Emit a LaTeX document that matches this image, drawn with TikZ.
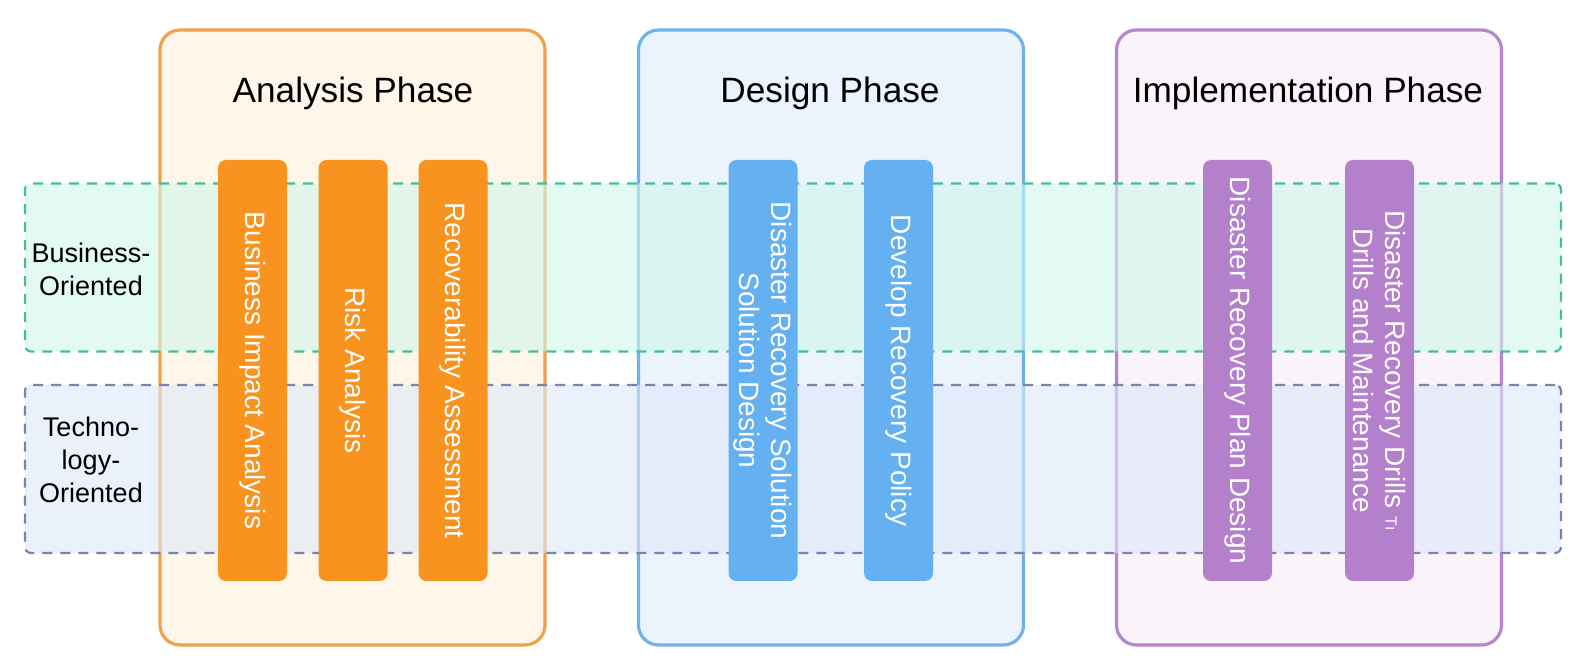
\documentclass[tikz,border=0pt]{standalone}
\usepackage{fontspec}
\setmainfont{Liberation Sans}
\definecolor{phAline}{HTML}{F0A24A}
\definecolor{phAfill}{HTML}{FEF6E8}
\definecolor{barA}{HTML}{F7931E}
\definecolor{phBline}{HTML}{6FB3EA}
\definecolor{phBfill}{HTML}{EBF4FD}
\definecolor{barB}{HTML}{64B0F0}
\definecolor{phCline}{HTML}{B586CC}
\definecolor{phCfill}{HTML}{FAF3FA}
\definecolor{barC}{HTML}{B47FCB}
\definecolor{bizline}{HTML}{45BC9C}
\definecolor{bizfill}{HTML}{CFF7EA}
\definecolor{techline}{HTML}{7A82B0}
\definecolor{techfill}{HTML}{DDE8F8}
\begin{document}
\begin{tikzpicture}[x=0.5pt,y=-0.5pt,
  phasebox/.style={rectangle, rounded corners=10pt, line width=1.6pt, minimum width=192.5pt, minimum height=307.5pt},
  band/.style={rectangle, rounded corners=3pt, line width=1.1pt, dash pattern=on 5pt off 4pt, minimum width=768pt, minimum height=84pt, fill opacity=0.6, text opacity=1},
  bar/.style={rectangle, rounded corners=4pt, rotate=-90, minimum width=210.5pt, minimum height=34.5pt, text=white, font=\fontsize{14pt}{16pt}\selectfont, align=center, inner sep=0pt},
  title/.style={font=\fontsize{17.6pt}{21pt}\selectfont, text=black},
  lab/.style={font=\fontsize{13.5pt}{16.5pt}\selectfont, align=center, text=black}
]
\useasboundingbox (0,0) rectangle (1584,672);
\fill[white] (0,0) rectangle (1584,672);
% phase boxes
\node[phasebox, draw=phAline, fill=phAfill] (pa) at (352.5,337.5) {};
\node[phasebox, draw=phBline, fill=phBfill] (pb) at (831,337.5) {};
\node[phasebox, draw=phCline, fill=phCfill] (pc) at (1309,337.5) {};
% titles
\node[title] (ta) at (353,93) {Analysis Phase};
\node[title] (tb) at (830,93) {Design Phase};
\node[title] (tc) at (1308,93) {Implementation Phase};
% bands
\node[band, draw=bizline, fill=bizfill] (biz) at (793,267.5) {};
\node[band, draw=techline, fill=techfill] (tech) at (793,469) {};
% bars
\node[bar, fill=barA] (a1) at (252.5,370.5) {Business Impact Analysis};
\node[bar, fill=barA] (a2) at (353,370.5) {Risk Analysis};
\node[bar, fill=barA] (a3) at (453,370.5) {Recoverability Assessment};
\node[bar, fill=barB] (b1) at (763,370.5) {Disaster Recovery Solution\\Solution Design};
\node[bar, fill=barB] (b2) at (898.5,370.5) {Develop Recovery Policy};
\node[bar, fill=barC] (c1) at (1237.5,370.5) {Disaster Recovery Plan Design};
\node[bar, fill=barC] (c2) at (1379.5,370.5) {Disaster Recovery Drills {\fontsize{8pt}{8pt}\selectfont T\i}\\Drills and Maintenance};
% row labels
\node[lab] (lb) at (91,269) {Business-\\Oriented};
\node[lab] (lt) at (91,460) {Techno-\\logy-\\Oriented};
\end{tikzpicture}
\end{document}
